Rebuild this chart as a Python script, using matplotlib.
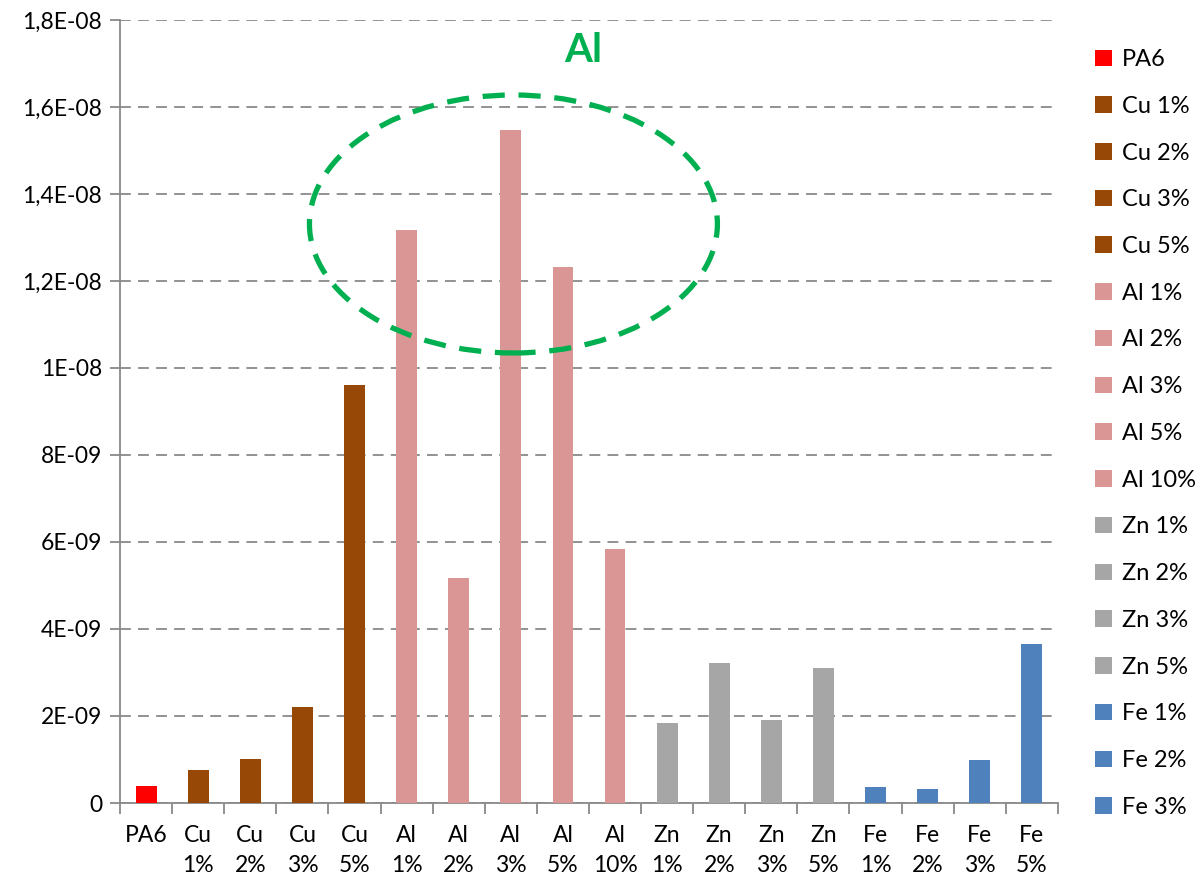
import matplotlib

matplotlib.use("Agg")
import matplotlib.pyplot as plt
from matplotlib.patches import Ellipse
from matplotlib.ticker import FixedLocator, FixedFormatter

plt.rcParams["font.family"] = ["Lato", "DejaVu Sans"]

AXIS = "#898989"

categories = ["PA6", "Cu\n1%", "Cu\n2%", "Cu\n3%", "Cu\n5%",
              "Al\n1%", "Al\n2%", "Al\n3%", "Al\n5%", "Al\n10%",
              "Zn\n1%", "Zn\n2%", "Zn\n3%", "Zn\n5%",
              "Fe\n1%", "Fe\n2%", "Fe\n3%", "Fe\n5%"]
values = [0.40e-9, 0.76e-9, 1.00e-9, 2.20e-9, 9.61e-9,
          13.17e-9, 5.17e-9, 15.48e-9, 12.32e-9, 5.84e-9,
          1.84e-9, 3.22e-9, 1.91e-9, 3.11e-9,
          0.37e-9, 0.33e-9, 0.99e-9, 3.66e-9]
groups = ["PA6", "Cu", "Cu", "Cu", "Cu",
          "Al", "Al", "Al", "Al", "Al",
          "Zn", "Zn", "Zn", "Zn",
          "Fe", "Fe", "Fe", "Fe"]
colors = {"PA6": "#ff0000", "Cu": "#974706", "Al": "#d99694",
          "Zn": "#a6a6a6", "Fe": "#4f81bd"}
legend_labels = ["PA6", "Cu 1%", "Cu 2%", "Cu 3%", "Cu 5%",
                 "Al 1%", "Al 2%", "Al 3%", "Al 5%", "Al 10%",
                 "Zn 1%", "Zn 2%", "Zn 3%", "Zn 5%",
                 "Fe 1%", "Fe 2%", "Fe 3%"]

y_ticks = [0, 2e-9, 4e-9, 6e-9, 8e-9, 1e-8, 1.2e-8, 1.4e-8, 1.6e-8, 1.8e-8]
y_tick_labels = ["0", "2E-09", "4E-09", "6E-09", "8E-09", "1E-08",
                 "1,2E-08", "1,4E-08", "1,6E-08", "1,8E-08"]

fig = plt.figure(figsize=(11.97, 8.8), dpi=100)
ax = fig.add_axes([0.1003, 0.0875, 0.7835, 0.8898])

handles = []
for i, (v, g) in enumerate(zip(values, groups)):
    b = ax.bar(i, v, width=0.4, color=colors[g], zorder=3)
    handles.append(b)

ax.set_xlim(-0.5, len(categories) - 0.5)
ax.set_ylim(0, 1.8e-8)

ax.yaxis.set_major_locator(FixedLocator(y_ticks))
ax.yaxis.set_major_formatter(FixedFormatter(y_tick_labels))
ax.tick_params(axis="y", length=7, width=1.3, color=AXIS, labelsize=16.5, pad=6)

# category labels centred, tick marks on the boundaries between bars
ax.set_xticks(range(len(categories)))
ax.set_xticklabels(categories, fontsize=16.5, linespacing=1.5)
ax.set_xticks([i - 0.5 for i in range(len(categories) + 1)], minor=True)
ax.tick_params(axis="x", which="major", length=0, pad=16)
ax.tick_params(axis="x", which="minor", length=8, width=1.3, color=AXIS)
for t in ax.get_xticklabels():
    t.set_verticalalignment("top")

ax.grid(axis="y", color=AXIS, linestyle=(0, (6, 4)), linewidth=1.3, zorder=0)
ax.set_axisbelow(True)
for s in ("top", "right"):
    ax.spines[s].set_visible(False)
for s in ("left", "bottom"):
    ax.spines[s].set_color(AXIS)
    ax.spines[s].set_linewidth(1.3)

# highlight the aluminium group
ax.add_patch(Ellipse((7.05, 13.31e-9), 7.83, 5.93e-9, fill=False,
                     edgecolor="#00b050", linewidth=3.8,
                     linestyle=(0, (4.2, 2.6)), zorder=4))
ax.text(8.38, 17.3e-9, "Al", color="#00b050", fontsize=29,
        fontweight="bold", ha="center", va="center")

leg = fig.legend([h[0] for h in handles[:len(legend_labels)]], legend_labels,
                 loc="upper left", bbox_to_anchor=(0.907, 0.955),
                 frameon=False, fontsize=17, handlelength=0.7,
                 handleheight=0.7, handletextpad=0.45, labelspacing=1.09,
                 borderaxespad=0)

fig.savefig("out.png", dpi=100)
